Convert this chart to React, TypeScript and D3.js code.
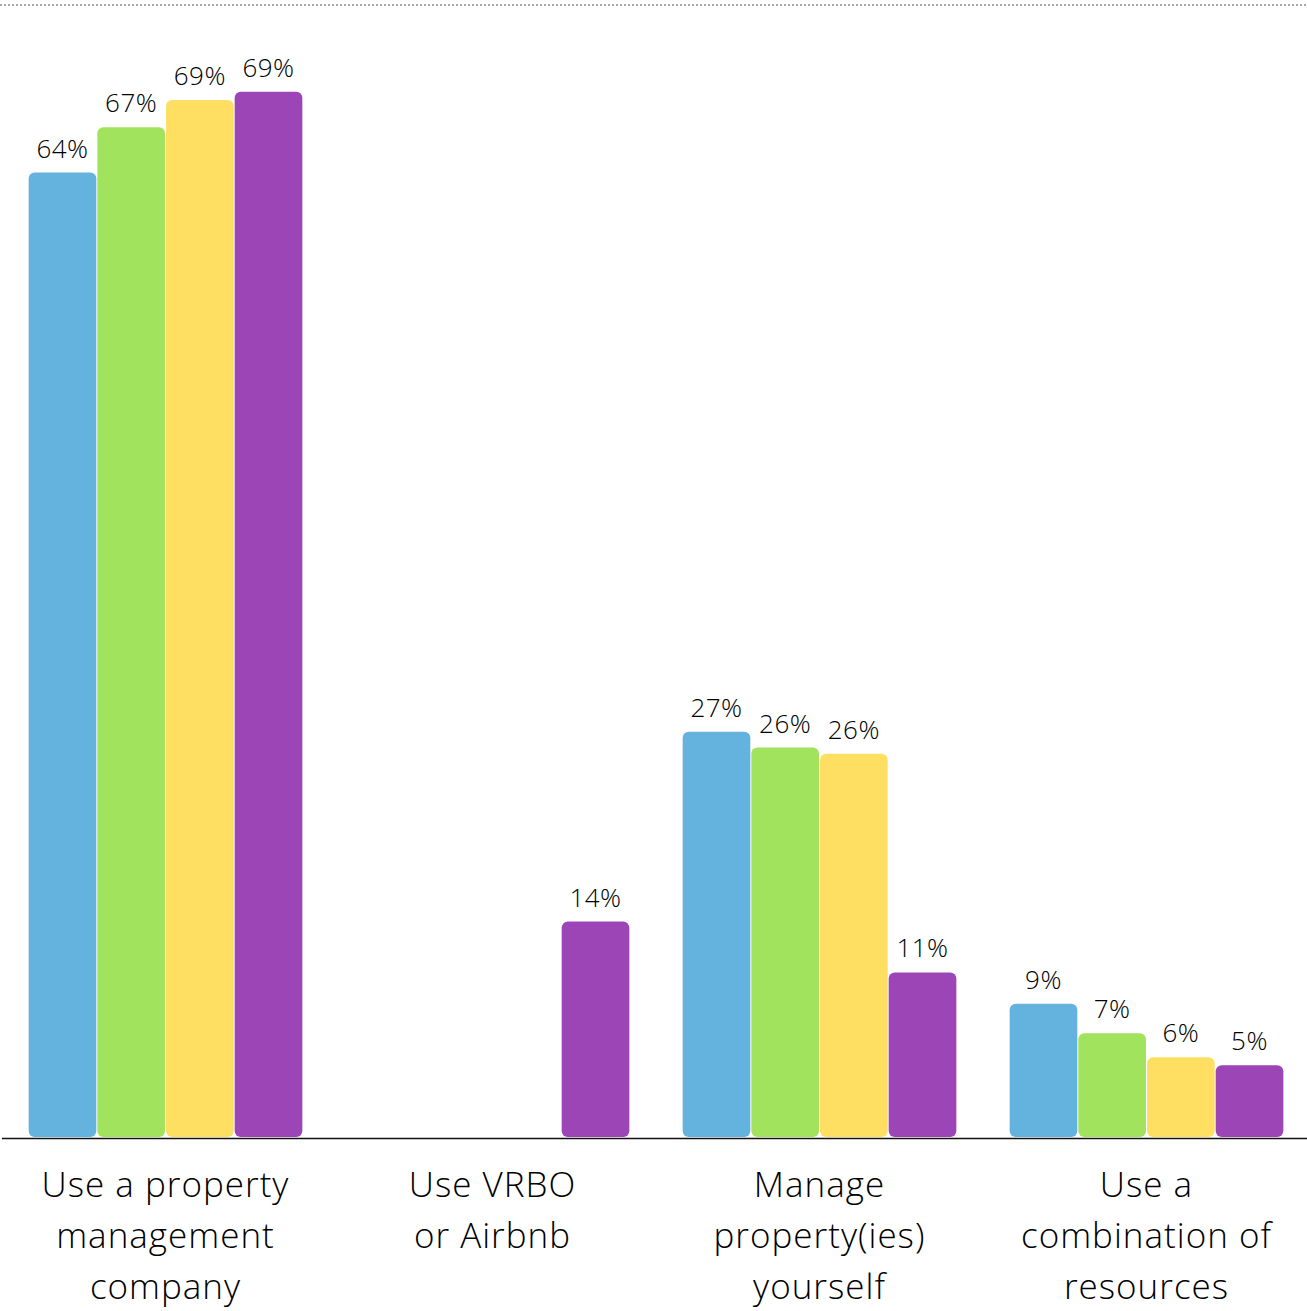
import React from "react";
import * as d3 from "d3";

const categories: string[][] = [
  ["Use a property", "management", "company"],
  ["Use VRBO", "or Airbnb"],
  ["Manage", "property(ies)", "yourself"],
  ["Use a", "combination of", "resources"],
];
const seriesNames = ["S1", "S2", "S3", "S4"];
const seriesColors = ["#64B3DE", "#A1E35C", "#FFDF62", "#9B45B7"];

const blueValues: (number | null)[] = [63.9, null, 26.85, 8.83];
const greenValues: (number | null)[] = [66.9, null, 25.8, 6.87];
const yellowValues: (number | null)[] = [68.7, null, 25.4, 5.28];
const purpleValues: (number | null)[] = [69.25, 14.27, 10.9, 4.75];

const blueLabels = ["64%", "", "27%", "9%"];
const greenLabels = ["67%", "", "26%", "7%"];
const yellowLabels = ["69%", "", "26%", "6%"];
const purpleLabels = ["69%", "14%", "11%", "5%"];

const yMax = 75;

const W = 1307;
const H = 1311;
const FONT = "'Open Sans', Lato, sans-serif";

export default function App() {
  const values = [blueValues, greenValues, yellowValues, purpleValues];
  const labels = [blueLabels, greenLabels, yellowLabels, purpleLabels];
  const catKeys = categories.map((c) => c.join(" "));

  const x0 = d3
    .scaleBand<string>()
    .domain(catKeys)
    .range([2, 1310])
    .paddingInner(0.16)
    .paddingOuter(0.08);
  const x1 = d3
    .scaleBand<string>()
    .domain(seriesNames)
    .range([0, x0.bandwidth()])
    .padding(0);
  const y = d3.scaleLinear().domain([0, yMax]).range([1137, 5]);

  const bars: React.ReactNode[] = [];
  const texts: React.ReactNode[] = [];
  catKeys.forEach((ck, ci) => {
    seriesNames.forEach((s, si) => {
      const v = values[si][ci];
      if (v == null) return;
      const bx = (x0(ck) as number) + (x1(s) as number);
      const bw = x1.bandwidth();
      const top = y(v);
      bars.push(
        <rect
          key={`b-${ci}-${si}`}
          x={bx + 0.5}
          y={top}
          width={bw - 1}
          height={y(0) - top}
          rx={6}
          ry={6}
          fill={seriesColors[si]}
        />
      );
      texts.push(
        <text
          key={`t-${ci}-${si}`}
          x={bx + bw / 2}
          y={top - 15}
          textAnchor="middle"
          fontSize={26}
          fontWeight={300}
          letterSpacing={0.5}
          fontFamily={FONT}
          fill="#000"
        >
          {labels[si][ci]}
        </text>
      );
    });
  });

  return (
    <svg
      width={W}
      height={H}
      style={{ position: "absolute", left: 0, top: 0, background: "#fff" }}
    >
      <line x1={0} x2={W} y1={y(yMax)} y2={y(yMax)} stroke="#555" strokeWidth={1} strokeDasharray="2,2" />
      {bars}
      {texts}
      <line x1={2} x2={W} y1={1138.5} y2={1138.5} stroke="#111" strokeWidth={1.5} />
      {catKeys.map((ck, ci) => (
        <text
          key={`c-${ci}`}
          x={(x0(ck) as number) + x0.bandwidth() / 2}
          y={1197}
          textAnchor="middle"
          fontSize={35}
          fontWeight={300}
          letterSpacing={1}
          fontFamily={FONT}
          fill="#000"
        >
          {categories[ci].map((line, li) => (
            <tspan key={li} x={(x0(ck) as number) + x0.bandwidth() / 2} dy={li === 0 ? 0 : 51}>
              {line}
            </tspan>
          ))}
        </text>
      ))}
    </svg>
  );
}
